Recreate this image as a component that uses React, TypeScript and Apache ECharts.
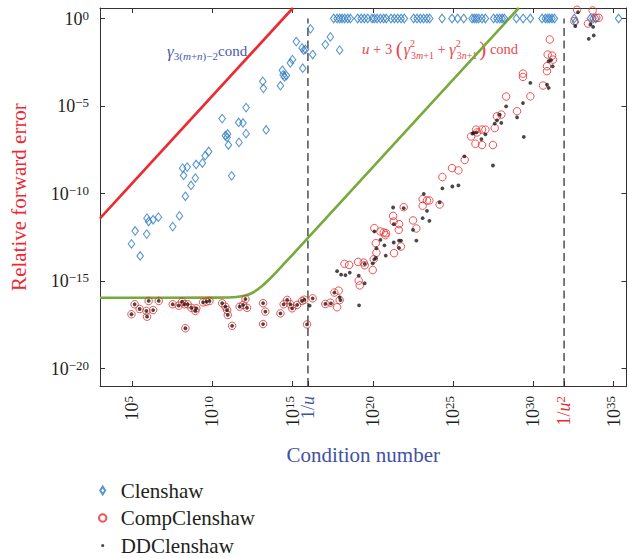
import React, { useEffect, useRef } from "react";
import * as echarts from "echarts";

// All values are log10 of (condition number, relative forward error)
const LOG_INV_U = 15.955; // 1/u
const LOG_INV_U2 = 31.91; // 1/u^2

const xTickValues = [5, 10, 15, 20, 25, 30, 35];
const yTickValues = [-20, -15, -10, -5, 0];

const clenshaw: number[][] = [
  [4.96, -12.88], [5.19, -12.14], [5.5, -13.57], [5.91, -12.32], [5.93, -11.41], [6.03, -11.6],
  [6.31, -11.5], [6.64, -11.35], [7.53, -11.89], [7.95, -11.28], [8.32, -10.16], [8.67, -9.54],
  [8.94, -9.12], [8.21, -8.97], [8.15, -8.55], [8.43, -8.49], [8.99, -8.34], [9.38, -8.26],
  [9.55, -7.84], [9.77, -7.6], [11.2, -8.99], [11.0, -7.23], [11.66, -7.08], [10.92, -6.79],
  [10.95, -6.6], [10.81, -6.7], [13.35, -6.37], [12.1, -6.58], [11.91, -5.97], [11.64, -5.94],
  [10.61, -5.72], [12.1, -5.09], [13.18, -3.99], [13.14, -3.59], [14.24, -3.84], [14.49, -3.34],
  [14.61, -3.26], [14.41, -3.22], [14.36, -2.96], [14.86, -2.54], [14.99, -2.35], [15.63, -2.84],
  [16.25, -2.06], [15.8, -1.77], [15.69, -1.81], [15.59, -1.68], [15.23, -1.32], [16.11, -0.59],
  [17.04, -1.49], [17.35, -1.05], [17.93, -1.81],
  [17.56, 0], [17.77, 0], [17.93, 0], [18.08, 0], [18.24, 0], [18.43, 0], [18.6, 0],
  [19.05, 0], [19.27, 0], [19.47, 0], [19.68, 0], [19.95, 0], [20.09, 0], [20.26, 0],
  [20.47, 0], [20.67, 0], [20.84, 0], [21.13, 0], [21.34, 0], [21.55, 0], [21.76, 0],
  [21.96, 0], [22.54, 0], [22.75, 0], [22.96, 0], [23.16, 0], [23.37, 0], [23.54, 0],
  [24.31, 0], [24.93, 0], [25.28, 0], [25.66, 0], [26.18, 0], [26.32, 0], [26.45, 0],
  [26.59, 0], [26.8, 0], [27.01, 0], [27.52, 0], [27.73, 0], [27.9, 0], [28.05, 0],
  [28.19, 0], [28.94, 0], [29.36, 0], [29.81, 0], [30.54, 0], [30.75, 0], [30.89, 0],
  [31.01, 0], [31.16, 0], [31.31, 0], [32.55, 0], [32.62, -0.2], [33.55, 0], [33.72, 0],
  [33.88, 0], [35.31, 0],
];

// points where CompClenshaw and DDClenshaw coincide (cond < 1/u)
const stableRegion: number[][] = [
  [4.96, -16.9], [5.16, -16.33], [5.47, -16.6], [5.89, -16.71], [5.93, -17.04], [6.03, -16.14],
  [6.31, -16.66], [6.66, -16.14], [7.53, -16.33], [7.9, -16.41], [8.11, -16.18], [8.26, -16.33],
  [8.46, -16.33], [8.69, -16.53], [8.94, -16.71], [9.0, -16.56], [8.32, -17.7], [9.42, -16.22],
  [9.63, -16.18], [9.82, -16.14], [10.61, -16.27], [10.81, -16.47], [10.92, -16.66], [10.96, -16.94],
  [11.23, -17.56], [11.7, -16.47], [11.91, -16.37], [12.06, -16.03], [12.16, -16.53], [13.16, -16.27],
  [13.3, -16.75], [13.16, -17.46], [14.24, -16.85], [14.44, -16.33], [14.66, -16.08], [14.86, -16.33],
  [14.97, -16.56], [15.28, -16.37], [15.59, -16.14], [15.73, -16.07], [15.9, -17.48], [16.25, -15.99],
];

const compClenshaw: number[][] = [
  ...stableRegion,
  [17.04, -16.31], [17.35, -16.24], [17.6, -15.66], [17.77, -16.5], [17.87, -15.55], [17.93, -16.09],
  [18.23, -14.02], [18.52, -14.08], [19.08, -13.91], [19.12, -14.98], [19.18, -15.25], [19.43, -13.95],
  [19.49, -14.1], [19.99, -14.37], [20.05, -13.76], [20.18, -12.84], [20.22, -13.39], [20.09, -11.98],
  [20.47, -12.17], [20.68, -12.23], [20.78, -12.38], [20.82, -12.27], [21.26, -11.28], [21.3, -11.6],
  [21.63, -11.75], [21.61, -12.08], [21.32, -13.41], [21.75, -13.03], [21.92, -10.78], [22.5, -11.54],
  [22.71, -12.0], [23.1, -10.7], [23.1, -10.32], [23.37, -10.4], [23.52, -10.4], [24.16, -10.63],
  [24.33, -9.06], [24.93, -8.55], [25.33, -8.68], [25.72, -8.08],
  [26.43, -6.35], [26.49, -6.51], [26.8, -6.35], [27.01, -6.35], [26.12, -6.74], [26.39, -7.16],
  [26.8, -7.23], [27.48, -7.23], [27.59, -6.26], [27.73, -5.59], [28.0, -5.49], [28.3, -4.46],
  [28.98, -5.3], [29.35, -3.15], [29.35, -3.34], [29.81, -4.45], [30.6, -3.83], [30.85, -2.73],
  [30.85, -3.01], [31.02, -1.2], [30.89, -2.06], [31.16, -2.12], [31.22, -2.35],
  [32.72, 0.5], [33.69, 0.46], [33.4, -0.29], [33.92, 0.04], [34.07, 0.04], [32.55, -0.15],
];

const ddClenshaw: number[][] = [
  ...stableRegion,
  [16.06, -16.41],
  [17.04, -16.31], [17.39, -16.28], [17.6, -15.66], [17.93, -15.93], [17.98, -16.09], [17.77, -14.44],
  [18.02, -14.64], [18.29, -14.67], [18.56, -14.52], [19.12, -14.69], [19.49, -15.13], [19.14, -16.39],
  [19.49, -14.02], [19.99, -13.99], [20.09, -13.76], [20.18, -13.68], [20.22, -13.13], [20.47, -12.65],
  [20.72, -12.96], [20.8, -13.55], [20.09, -12.17], [21.3, -12.8], [21.63, -12.69], [21.75, -12.69],
  [21.63, -13.11], [21.26, -10.8], [21.3, -11.75], [21.92, -10.84], [22.71, -12.69], [22.5, -12.08],
  [23.1, -11.41], [23.37, -10.99], [23.52, -11.56], [23.17, -10.02], [24.16, -10.51], [24.33, -9.71],
  [24.95, -9.6], [25.33, -9.54],
  [25.7, -7.88], [26.2, -6.58], [26.28, -6.54], [26.45, -6.51], [26.76, -6.89], [27.01, -6.62],
  [27.48, -8.4], [27.59, -6.01], [27.73, -5.82], [27.9, -5.5], [28.0, -5.97], [28.3, -5.02],
  [28.98, -5.65], [29.35, -4.83], [29.4, -6.77], [29.81, -3.68], [30.85, -3.78], [30.95, -3.97],
  [30.95, -2.44], [31.1, -2.38], [31.2, -2.73],
  [32.78, 0.36], [32.61, -0.44], [33.45, -1.16], [33.55, -0.34], [33.72, -0.48], [33.76, -0.97],
];

// bound curves
const gammaBound: number[][] = [[3, -11.42], [15.02, 0.6]];
const compBound: number[][] = [
  [3, -15.955], [10, -15.95], [11, -15.943], [12, -15.84], [12.5, -15.67], [13, -15.36],
  [13.5, -14.945], [14, -14.475], [15, -13.488], [29.09, 0.6],
];
const invULine: number[][] = [[LOG_INV_U, -21], [LOG_INV_U, 0]];
const invU2Line: number[][] = [[LOG_INV_U2, -21], [LOG_INV_U2, 0]];

const SERIF = "'Liberation Serif', 'Times New Roman', serif";
const INK = "#231f20";
const AXIS = "#333333";
const BLUE_TXT = "#3f51a3";
const RED = "#ec2a2f";

const legendIcons = {
  diamond: "path://M0,0Z M20,10Z M7,1.1 L9.5,5 L7,8.9 L4.5,5 Z",
  circle: "path://M0,0Z M20,10Z M3.3,5 A3.7,3.7 0 1,1 10.7,5 A3.7,3.7 0 1,1 3.3,5 Z",
  dot: "path://M0,0Z M20,10Z M5.4,5 A1.6,1.6 0 1,1 8.6,5 A1.6,1.6 0 1,1 5.4,5 Z",
};

const tickRich = {
  b: { fontSize: 18, fontFamily: SERIF, color: INK, lineHeight: 20 },
  e: { fontSize: 13, fontFamily: SERIF, color: INK, lineHeight: 13, verticalAlign: "top" as const },
  u: { fontSize: 18, fontFamily: SERIF, color: BLUE_TXT, lineHeight: 20 },
  ui: { fontSize: 18, fontFamily: SERIF, color: BLUE_TXT, fontStyle: "italic" as const, lineHeight: 20 },
  r: { fontSize: 18, fontFamily: SERIF, color: RED, lineHeight: 20 },
  ri: { fontSize: 18, fontFamily: SERIF, color: RED, fontStyle: "italic" as const, lineHeight: 20 },
  rs: { fontSize: 13, fontFamily: SERIF, color: RED, lineHeight: 13, verticalAlign: "top" as const },
};

const powLabel = (v: number) => {
  if (Math.abs(v - LOG_INV_U) < 0.01) return "{u|1/}{ui|u}";
  if (Math.abs(v - LOG_INV_U2) < 0.01) return "{r|1/}{ri|u}{rs|2}";
  return "{b|10}{e|" + String(v).replace("-", "\u2212") + "}";
};

export default function App() {
  const ref = useRef<HTMLDivElement>(null);
  useEffect(() => {
    if (!ref.current) return;
    const chart = echarts.init(ref.current, undefined, { renderer: "svg" });
    const axisLine = { show: true, onZero: false, lineStyle: { color: AXIS, width: 1 } };
    const option: any = {
      animation: false,
      backgroundColor: "#ffffff",
      grid: { left: 100, top: 8, right: 2.5, bottom: 172, containLabel: false },
      xAxis: [
        {
          type: "value", position: "bottom", min: 3, max: 35.8,
          axisLine,
          axisTick: { show: true, inside: true, length: 5, customValues: [...xTickValues, LOG_INV_U, LOG_INV_U2], lineStyle: { color: AXIS } },
          axisLabel: { show: true, customValues: [...xTickValues, LOG_INV_U, LOG_INV_U2], rotate: 90, margin: 10, formatter: powLabel, rich: tickRich },
          splitLine: { show: false },
          name: "Condition number", nameLocation: "middle", nameGap: 58,
          nameTextStyle: { fontSize: 21, fontFamily: SERIF, color: BLUE_TXT },
        },
        {
          type: "value", position: "top", min: 3, max: 35.8,
          axisLine,
          axisTick: { show: true, inside: true, length: 5, customValues: xTickValues, lineStyle: { color: AXIS } },
          axisLabel: { show: false }, splitLine: { show: false },
        },
      ],
      yAxis: [
        {
          type: "value", position: "left", min: -21, max: 0.6,
          axisLine,
          axisTick: { show: true, inside: true, length: 5, customValues: yTickValues, lineStyle: { color: AXIS } },
          axisLabel: { show: true, customValues: yTickValues, margin: 11, formatter: powLabel, rich: tickRich },
          splitLine: { show: false },
          name: "Relative forward error", nameLocation: "middle", nameGap: 71,
          nameTextStyle: { fontSize: 21, fontFamily: SERIF, color: RED },
        },
        {
          type: "value", position: "right", min: -21, max: 0.6,
          axisLine,
          axisTick: { show: true, inside: true, length: 5, customValues: yTickValues, lineStyle: { color: AXIS } },
          axisLabel: { show: false }, splitLine: { show: false },
        },
      ],
      legend: {
        orient: "vertical", left: 94.7, top: 479, itemWidth: 20, itemHeight: 10, itemGap: 4.5,
        padding: 0,
        textStyle: { fontSize: 21, fontFamily: SERIF, color: INK, lineHeight: 23 },
        data: [
          { name: "Clenshaw", icon: legendIcons.diamond },
          { name: "CompClenshaw", icon: legendIcons.circle },
          { name: "DDClenshaw", icon: legendIcons.dot },
        ],
      },
      series: [
        {
          name: "gammaBound", type: "line", data: gammaBound, symbol: "none", silent: true,
          lineStyle: { color: RED, width: 2.6 }, z: 2,
        },
        {
          name: "compBound", type: "line", data: compBound, symbol: "none", silent: true, smooth: 0.25,
          lineStyle: { color: "#76ab3b", width: 2.6 }, z: 2,
        },
        {
          name: "invU", type: "line", data: invULine, symbol: "none", silent: true,
          lineStyle: { color: "#222", width: 1.2, type: [8, 4.5] }, z: 2,
        },
        {
          name: "invU2", type: "line", data: invU2Line, symbol: "none", silent: true,
          lineStyle: { color: "#222", width: 1.2, type: [8, 4.5] }, z: 2,
        },
        {
          name: "Clenshaw", type: "scatter", data: clenshaw, symbol: "diamond", symbolSize: [6.5, 8.5],
          itemStyle: { color: "rgba(0,0,0,0)", borderColor: "#2e7cc2", borderWidth: 1.1 }, z: 3,
        },
        {
          name: "CompClenshaw", type: "scatter", data: compClenshaw, symbol: "circle", symbolSize: 7.5,
          itemStyle: { color: "rgba(0,0,0,0)", borderColor: "#f02828", borderWidth: 1 }, z: 3,
        },
        {
          name: "DDClenshaw", type: "scatter", data: ddClenshaw, symbol: "circle", symbolSize: 3.8,
          itemStyle: { color: "#1a1a1a" }, z: 4,
        },
      ],
    };
    chart.setOption(option);

    const p1 = chart.convertToPixel({ seriesIndex: 0 }, [7.18, -1.87]) as number[];
    const p2 = chart.convertToPixel({ seriesIndex: 0 }, [19.32, -1.77]) as number[];
    const c1 = "#4a5aab";
    const c2 = "#e8474c";
    chart.setOption({
      graphic: [
        {
          type: "text", x: p1[0], y: p1[1], silent: true,
          style: {
            text: "{g|\u03b3}{s|3(}{si|m}{s|+}{si|n}{s|)\u22122}{c|cond}",
            verticalAlign: "middle", align: "left",
            rich: {
              g: { fontSize: 17, fontFamily: SERIF, fontStyle: "italic", fill: c1, lineHeight: 20 },
              s: { fontSize: 11, fontFamily: SERIF, fill: c1, lineHeight: 11, verticalAlign: "bottom" },
              si: { fontSize: 11, fontFamily: SERIF, fontStyle: "italic", fill: c1, lineHeight: 11, verticalAlign: "bottom" },
              c: { fontSize: 15, fontFamily: SERIF, fill: c1, lineHeight: 20 },
            },
          },
        },
        {
          type: "text", x: p2[0], y: p2[1], silent: true,
          style: {
            text: "{i|u}{r| + 3 }{p|(}{g|\u03b3}{sp|2}{sb|3}{sbi|m}{sb|+1}{r| + }{g|\u03b3}{sp|2}{sb|3}{sbi|n}{sb|+1}{pc|)}{r| cond}",
            verticalAlign: "middle", align: "left",
            rich: {
              i: { fontSize: 15, fontFamily: SERIF, fontStyle: "italic", fill: c2, lineHeight: 22 },
              r: { fontSize: 14.5, fontFamily: SERIF, fill: c2, lineHeight: 22 },
              p: { fontSize: 21, fontFamily: SERIF, fill: c2, lineHeight: 22, padding: [0, 1, 0, 0] },
              pc: { fontSize: 21, fontFamily: SERIF, fill: c2, lineHeight: 22, padding: [0, 0, 0, 2] },
              g: { fontSize: 16, fontFamily: SERIF, fontStyle: "italic", fill: c2, lineHeight: 22 },
              sp: { fontSize: 10, fontFamily: SERIF, fill: c2, lineHeight: 10, verticalAlign: "top", width: 1 },
              sb: { fontSize: 10, fontFamily: SERIF, fill: c2, lineHeight: 10, verticalAlign: "bottom" },
              sbi: { fontSize: 10, fontFamily: SERIF, fontStyle: "italic", fill: c2, lineHeight: 10, verticalAlign: "bottom" },
            },
          },
        },
      ],
    });
    return () => chart.dispose();
  }, []);
  return (
    <div
      ref={ref}
      style={{ position: "fixed", left: 0, top: 0, width: 629, height: 558, background: "#fff" }}
    />
  );
}
